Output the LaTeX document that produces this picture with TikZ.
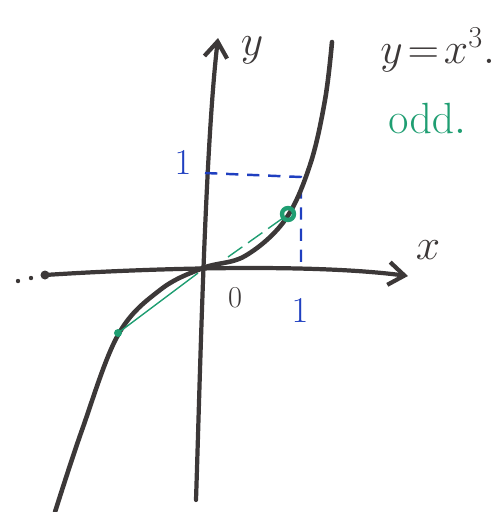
\documentclass[tikz,border=0pt]{standalone}
\usepackage{tikz}
\usetikzlibrary{arrows.meta}
\definecolor{Ink}{HTML}{3C3838}
\definecolor{Blue}{HTML}{1F3FC0}
\definecolor{Green}{HTML}{1F9E72}
\tikzset{
  axis/.style={-{Straight Barb[length=9pt,width=13pt]}, line width=2.4pt, color=Ink, line cap=round},
  curve/.style={line width=2.6pt, color=Ink, line cap=round},
  guide/.style={line width=1.4pt, color=Blue, dash pattern=on 7pt off 5pt},
  chord/.style={line width=0.8pt, color=Green},
  lbl/.style={inner sep=0pt, font=\fontsize{#1}{#1}\selectfont},
  lbl/.default=20,
}

\begin{document}
\begin{tikzpicture}[x=0.02cm, y=-0.02cm]
\useasboundingbox (0,0) rectangle (496,512);

% axes
\coordinate (O) at (203,268);
\coordinate (xl) at (45,275);
\coordinate (xr) at (408,276);
\coordinate (yb) at (196,500);
\coordinate (yt) at (218,38);
\draw[axis] (xl) .. controls (120,270) and (300,262) .. (xr);
\draw[axis] (yb) .. controls (200,380) and (205,150) .. (yt);
\fill[Ink] (xl) circle (4.5);
\fill[Ink] (31,278) circle (2.2);
\fill[Ink] (18,281) circle (2.2);

% unit guides
\coordinate (P) at (301,177);
\coordinate (Py) at (205,173);
\coordinate (Px) at (301,270);
\draw[guide] (Py) -- (P) -- (Px);

% y = x^3
\draw[curve] plot[smooth, tension=0.6] coordinates {
  (55,512) (82,430) (118,335) (160,290) (203,268) (245,256) (285,220) (310,165) (325,100) (332,42)};

% odd symmetry
\draw[chord] (118,333) -- (198,273);
\draw[chord, dash pattern=on 10pt off 4pt] (228,257) -- (283,218);
\draw[Green, line width=2.5pt] (288,214) circle (6);
\fill[Green] (118,333) circle (4);

% labels
\node[lbl=30, Ink] (ylab) at (252,50) {$y$};
\node[lbl=30, Ink] (xlab) at (428,250) {$x$};
\node[lbl=18, Ink] (zero) at (235,298) {$0$};
\node[lbl=22, Blue] (one1) at (300,311) {$1$};
\node[lbl=22, Blue] (one2) at (183,163) {$1$};
\node[lbl=24, Ink, anchor=west] (eq) at (380,50) {$y\!=\!x^3.$};
\node[lbl=34, Green, anchor=west] (odd) at (388,118) {$\mathrm{odd}.$};
\end{tikzpicture}
\end{document}
